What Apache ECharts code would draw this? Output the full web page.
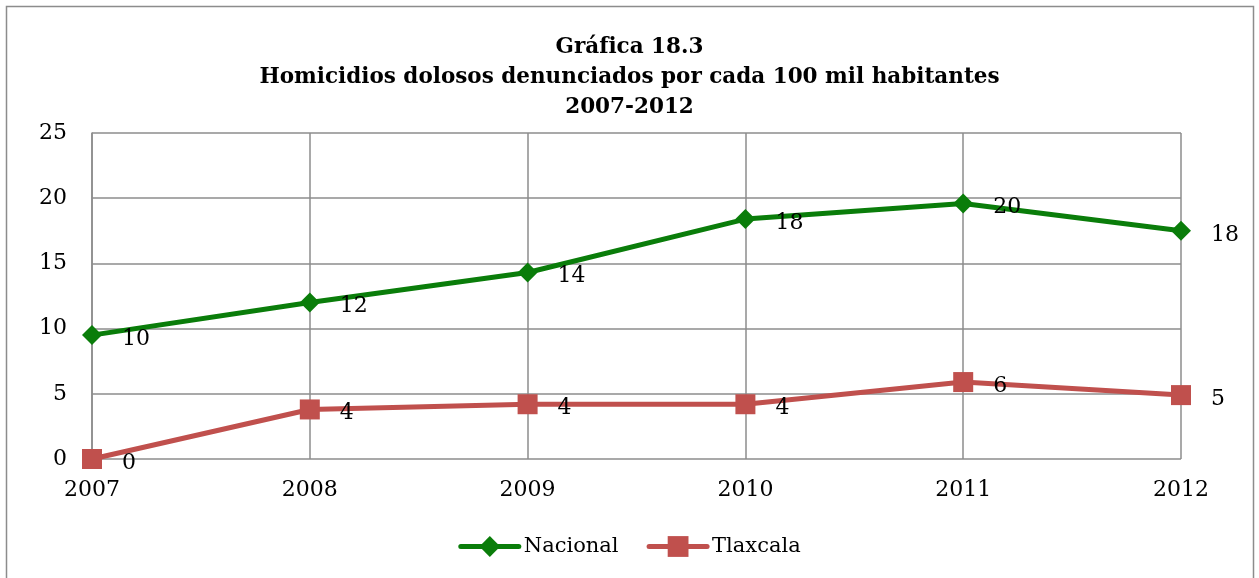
<!DOCTYPE html>
<html lang="es">
<head>
    <meta charset="UTF-8">
    <title>Gráfica 18.3</title>
    <script src="https://cdn.jsdelivr.net/npm/echarts@6/dist/echarts.min.js"></script>
    <style>
        html, body { margin: 0; padding: 0; background: #fff; }
        #chart { width: 1259px; height: 578px; }
    </style>
</head>
<body>
    <div id="chart"></div>
    <script>
        // datos
        const years = ['2007', '2008', '2009', '2010', '2011', '2012'];
        const nacional = [9.5, 12.0, 14.3, 18.4, 19.6, 17.5];
        const tlaxcala = [0.0, 3.8, 4.2, 4.2, 5.9, 4.9];
        const yTicks = { min: 0, max: 25, interval: 5 };

        const serif = '"DejaVu Serif", serif';
        const chart = echarts.init(document.getElementById('chart'));

        const labelStyle = {
            show: true,
            position: 'right',
            distance: 20,
            offset: [0, 4],
            fontFamily: serif,
            fontSize: 22,
            color: '#000',
            formatter: p => Math.round(p.value)
        };

        chart.setOption({
            animation: false,
            backgroundColor: '#fff',
            graphic: [{
                type: 'rect',
                shape: { x: 6.5, y: 6.5, width: 1247, height: 580 },
                style: { fill: 'none', stroke: '#8c8c8c', lineWidth: 1.5 }
            }],
            title: {
                text: 'Gráfica 18.3\nHomicidios dolosos denunciados por cada 100 mil habitantes\n2007-2012',
                left: 'center',
                top: 27,
                textStyle: {
                    fontFamily: serif,
                    fontWeight: 'bold',
                    fontSize: 21.5,
                    lineHeight: 30,
                    color: '#000'
                }
            },
            legend: {
                bottom: 16,
                left: 'center',
                itemWidth: 58,
                itemHeight: 26,
                itemGap: 28,
                textStyle: { fontFamily: serif, fontSize: 21, color: '#000' },
                lineStyle: { width: 5, cap: 'round' },
                data: ['Nacional', 'Tlaxcala']
            },
            grid: { left: 92, right: 78, top: 133, bottom: 119 },
            xAxis: {
                type: 'category',
                data: years,
                boundaryGap: false,
                axisLine: { show: false },
                axisTick: { show: false },
                axisLabel: {
                    margin: 20,
                    fontFamily: serif,
                    fontSize: 22,
                    color: '#000'
                },
                splitLine: { show: true, lineStyle: { color: '#8c8c8c', width: 1.5 } }
            },
            yAxis: {
                type: 'value',
                min: yTicks.min,
                max: yTicks.max,
                interval: yTicks.interval,
                axisLine: { show: true, lineStyle: { color: '#8c8c8c', width: 1.5 } },
                axisTick: { show: false },
                axisLabel: {
                    margin: 25,
                    fontFamily: serif,
                    fontSize: 22,
                    color: '#000'
                },
                splitLine: { lineStyle: { color: '#8c8c8c', width: 1.5 } }
            },
            series: [
                {
                    name: 'Nacional',
                    type: 'line',
                    data: nacional,
                    symbol: 'diamond',
                    symbolSize: 20,
                    lineStyle: { color: '#0a7d0a', width: 5 },
                    itemStyle: { color: '#0a7d0a' },
                    label: labelStyle,
                    z: 3
                },
                {
                    name: 'Tlaxcala',
                    type: 'line',
                    data: tlaxcala,
                    symbol: 'rect',
                    symbolSize: 20,
                    lineStyle: { color: '#c0504d', width: 5 },
                    itemStyle: { color: '#c0504d' },
                    label: labelStyle,
                    z: 2
                }
            ]
        });
    </script>
</body>
</html>
